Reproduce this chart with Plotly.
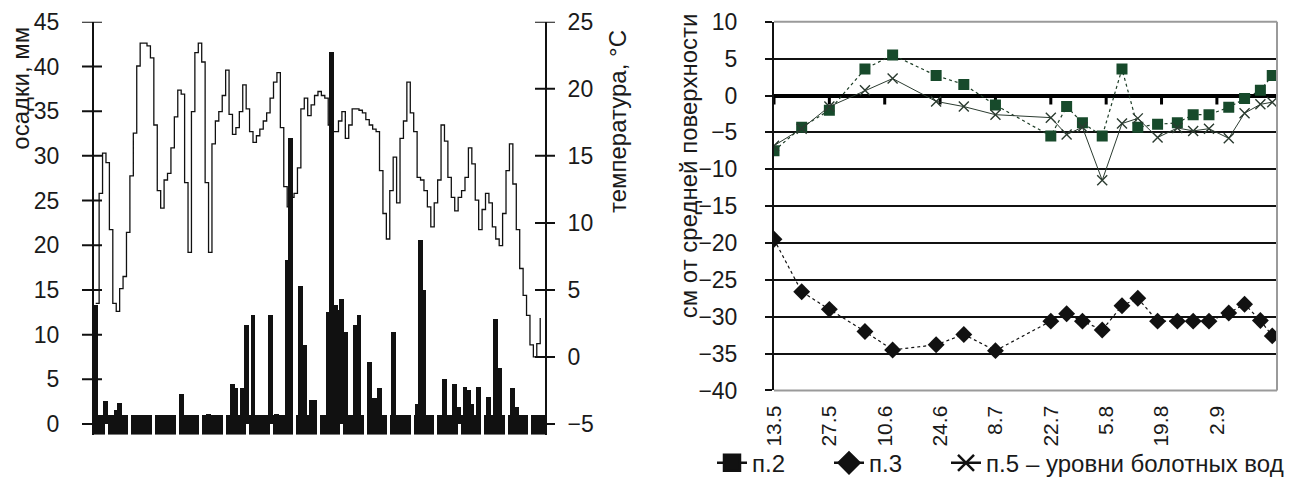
import plotly.graph_objects as go

# ---------------- left chart: daily precipitation and temperature ----------------
days = list(range(131))
temperature = [
    4.0, 12.2, 15.2, 14.5, 9.5, 4.0, 3.4, 5.1, 6.0, 9.3,
    13.5, 16.7, 21.7, 23.4, 23.4, 23.2, 22.3, 17.3, 12.4, 11.1,
    13.2, 13.7, 15.6, 17.9, 19.9, 19.6, 13.0, 7.8, 18.3, 22.7,
    23.4, 22.0, 13.0, 7.8, 15.9, 17.6, 18.3, 19.5, 21.4, 18.1,
    16.6, 17.1, 18.3, 20.3, 18.5, 16.8, 16.0, 16.5, 17.0, 17.6,
    18.2, 19.3, 20.5, 21.2, 17.1, 12.7, 11.2, 11.9, 12.2, 14.1,
    18.5, 19.3, 18.0, 18.8, 19.5, 19.8, 19.5, 19.3, 17.3, 16.8,
    16.8, 17.6, 18.3, 16.3, 17.3, 18.5, 18.5, 18.4, 18.2, 17.7,
    17.3, 17.0, 16.8, 13.9, 10.7, 8.8, 12.4, 14.9, 11.5, 16.3,
    17.6, 20.5, 18.2, 16.8, 13.4, 13.2, 12.4, 11.2, 9.7, 11.5,
    13.2, 17.3, 16.1, 13.4, 11.9, 10.9, 11.9, 12.4, 13.4, 15.6,
    14.4, 11.7, 9.5, 11.0, 12.2, 11.5, 9.7, 8.8, 8.3, 10.7,
    13.9, 15.9, 12.9, 9.5, 6.6, 4.6, 3.1, 0.9, 0.0, 1.0,
    2.9,
]
precip_day = [0, 3, 6, 7, 25, 33, 40, 41, 43, 44, 46, 51, 53, 56, 57, 60, 61, 63, 64,
              68, 69, 70, 71, 72, 73, 76, 77, 80, 81, 82, 83, 87, 94, 95, 96, 97, 98,
              102, 105, 106, 108, 109, 110, 112, 115, 117, 118, 122, 123]
precip_mm = [13.3, 2.6, 1.6, 2.4, 3.4, 1.2, 4.5, 4.0, 4.1, 11.1, 12.2, 12.2, 1.2, 18.4, 32.0,
             15.5, 8.9, 2.7, 2.7, 12.6, 41.7, 13.3, 12.8, 14.0, 10.3, 11.1, 12.2, 7.0, 2.9,
             2.9, 4.1, 10.3, 2.3, 20.6, 15.0, 0.8, 0.8, 5.1, 4.5, 1.9, 4.2, 3.8, 2.3, 4.2,
             3.0, 11.8, 6.3, 4.0, 1.9]
precip_ticks = [0, 5, 10, 15, 20, 25, 30, 35, 40, 45]
temp_ticks = [-5, 0, 5, 10, 15, 20, 25]
temp_labels = ["\u22125", "0", "5", "10", "15", "20", "25"]

# ---------------- right chart: bog water levels ----------------
obs_dates = ["2000-05-13", "2000-05-20", "2000-05-27", "2000-06-05", "2000-06-12",
             "2000-06-23", "2000-06-30", "2000-07-08", "2000-07-22", "2000-07-26",
             "2000-07-30", "2000-08-04", "2000-08-09", "2000-08-13", "2000-08-18",
             "2000-08-23", "2000-08-27", "2000-08-31", "2000-09-05", "2000-09-09",
             "2000-09-13", "2000-09-16"]
p2 = [-7.5, -4.3, -2.0, 3.6, 5.5, 2.7, 1.5, -1.3, -5.5, -1.5, -3.7,
      -5.5, 3.6, -4.3, -3.9, -3.7, -2.6, -2.6, -1.6, -0.4, 0.7, 2.7]
p3 = [-19.5, -26.6, -29.0, -32.0, -34.5, -33.8, -32.4, -34.6, -30.6, -29.6, -30.6,
      -31.8, -28.5, -27.5, -30.6, -30.6, -30.6, -30.6, -29.5, -28.3, -30.5, -32.6]
p5 = [-6.8, -4.5, -1.5, 0.7, 2.3, -0.8, -1.5, -2.6, -3.0, -5.3, -4.3,
      -11.5, -3.8, -3.1, -5.7, -4.4, -4.8, -4.5, -5.8, -2.4, -1.2, -0.9]
tick_dates = ["2000-05-13", "2000-05-27", "2000-06-10", "2000-06-24", "2000-07-08",
              "2000-07-22", "2000-08-05", "2000-08-19", "2000-09-02"]
tick_text = ["13.5", "27.5", "10.6", "24.6", "8.7", "22.7", "5.8", "19.8", "2.9"]
level_ticks = [10, 5, 0, -5, -10, -15, -20, -25, -30, -35, -40]
level_labels = ["10", "5", "0", "\u22125", "\u221210", "\u221215", "\u221220",
                "\u221225", "\u221230", "\u221235", "\u221240"]
series_names = ["п.2", "п.3", "п.5"]

# the page body has an 8 px margin: the figure starts 8 px from the window corner
OFF = 8
W, H = 1296 - OFF, 486 - OFF
FONT = "Liberation Sans, Arial, sans-serif"
TXT = "#1a1a1a"
FS = 23      # y tick labels
FX = 21      # rotated date labels
FT = 24      # titles and legend


def px_x(v):
    return (v - OFF) / W


def px_y(v):
    return 1 - (v - OFF) / H


fig = go.Figure()

# precipitation bars
fig.add_trace(go.Bar(x=precip_day, y=precip_mm, width=1.45, marker=dict(color="#111", line_width=0),
                     xaxis="x", yaxis="y", showlegend=False))
# temperature step line
fig.add_trace(go.Scatter(x=days, y=temperature, mode="lines", line=dict(color="#111", width=1.3, shape="hv"),
                         xaxis="x", yaxis="y2", showlegend=False))

# water level series
fig.add_trace(go.Scatter(x=obs_dates, y=p2, mode="lines+markers",
                         line=dict(color="#1d3d26", width=1.2, dash="dot"),
                         marker=dict(symbol="square", size=11, color="#174a2b"),
                         xaxis="x2", yaxis="y3", showlegend=False))
fig.add_trace(go.Scatter(x=obs_dates, y=p3, mode="lines+markers",
                         line=dict(color="#111", width=1.2, dash="dot"),
                         marker=dict(symbol="diamond", size=13, color="#111"),
                         xaxis="x2", yaxis="y3", showlegend=False))
fig.add_trace(go.Scatter(x=obs_dates, y=p5, mode="lines+markers",
                         line=dict(color="#2b3b30", width=1),
                         marker=dict(symbol="x-thin-open", size=10, line=dict(width=1.4, color="#1f3a27")),
                         xaxis="x2", yaxis="y3", showlegend=False))

# legend entries
leg_symbols = ["square", "diamond", "x-thin-open"]
leg_sizes = [16, 18, 16]
for name, sym, sz in zip(series_names, leg_symbols, leg_sizes):
    fig.add_trace(go.Scatter(x=[None], y=[None], mode="lines+markers", name=name,
                             line=dict(color="#111", width=2.5),
                             marker=dict(symbol=sym, size=sz, color="#111", line=dict(width=2.5, color="#111")),
                             xaxis="x2", yaxis="y3", showlegend=True))

left_dom = [px_x(94), px_x(545)]
left_ydom = [px_y(442), px_y(22)]
right_dom = [px_x(774), px_x(1277)]
right_ydom = [px_y(397), px_y(22)]

axis_font = dict(family=FONT, size=FS, color=TXT)

fig.update_layout(
    width=W, height=H, autosize=False,
    margin=dict(l=0, r=0, t=0, b=0, pad=0),
    paper_bgcolor="white", plot_bgcolor="rgba(0,0,0,0)",
    font=dict(family=FONT, size=FS, color=TXT),
    bargap=0,
    xaxis=dict(domain=left_dom, range=[-0.5, 131.4], anchor="y", automargin=False,
               showgrid=True, gridcolor="white", gridwidth=3, tick0=3.15, dtick=6.877,
               showticklabels=False, ticks="", zeroline=False, showline=False),
    yaxis=dict(domain=left_ydom, range=[-1.2, 45], anchor="x", automargin=False,
               tickvals=precip_ticks, ticks="",
               showline=True, linecolor="#111", linewidth=2, showgrid=False, zeroline=False,
               tickfont=axis_font, ticklabelstandoff=28),
    yaxis2=dict(range=[-5.8, 25], overlaying="y", side="right", anchor="x", automargin=False,
                tickvals=temp_ticks, ticktext=temp_labels, ticks="",
                showline=True, linecolor="#111", linewidth=2, showgrid=False, zeroline=False,
                tickfont=axis_font, ticklabelstandoff=16),
    xaxis2=dict(domain=right_dom, type="date", range=["2000-05-13", "2000-09-17 04:48"], anchor="y3",
                automargin=False,
                tickvals=tick_dates, ticktext=tick_text, tickangle=-90, ticks="",
                showgrid=False, zeroline=False, showline=False,
                tickfont=dict(family=FONT, size=FX, color=TXT), ticklabelstandoff=10),
    yaxis3=dict(domain=right_ydom, range=[-40, 10], anchor="x2", automargin=False,
                tickvals=level_ticks, ticktext=level_labels,
                showgrid=True, gridcolor="#111", gridwidth=2,
                zeroline=True, zerolinecolor="#000", zerolinewidth=4,
                showline=True, linecolor="#111", linewidth=2,
                ticks="outside", ticklen=7, tickwidth=2, tickcolor="#111",
                tickfont=axis_font, ticklabelstandoff=23),
    legend=dict(orientation="h", x=px_x(712), y=px_y(471), xanchor="left", yanchor="middle",
                font=dict(family=FONT, size=FT, color=TXT), bgcolor="rgba(0,0,0,0)",
                itemsizing="trace", entrywidth=72, entrywidthmode="pixels", tracegroupgap=0),
)

shapes = []
# baseline band under the precipitation bars
shapes.append(dict(type="rect", xref="x domain", yref="y", x0=0, x1=1, y0=-1.2, y1=1.0,
                   fillcolor="#111", line_width=0, layer="below"))
# crossing tick marks on both axes of the left chart
for v in precip_ticks:
    shapes.append(dict(type="line", xref="x domain", yref="y", xsizemode="pixel", xanchor=0,
                       x0=-12, x1=8, y0=v, y1=v, line=dict(color="#111", width=2), layer="above"))
for v in temp_ticks:
    shapes.append(dict(type="line", xref="x domain", yref="y2", xsizemode="pixel", xanchor=1,
                       x0=-10, x1=10, y0=v, y1=v, line=dict(color="#111", width=2), layer="above"))
# grey frame (top, right, bottom) of the water-level plot
frame = dict(xref="x2 domain", yref="y3 domain", type="line",
             line=dict(color="#9a9a9a", width=2), layer="above")
shapes.append(dict(frame, x0=0, x1=1, y0=1, y1=1))
shapes.append(dict(frame, x0=0, x1=1, y0=0, y1=0))
shapes.append(dict(frame, x0=1, x1=1, y0=0, y1=1))
# tick marks hanging from the zero line
for d in tick_dates:
    shapes.append(dict(type="line", xref="x2", yref="y3", x0=d, x1=d, ysizemode="pixel", yanchor=0,
                       y0=0, y1=-9, line=dict(color="#000", width=3), layer="below"))
fig.update_layout(shapes=shapes)

title_font = dict(family=FONT, size=FT, color=TXT)
for txt, xc, yc in [("осадки, мм", 21, 90), ("температура, °C", 617, 124),
                    ("см от средней поверхности", 688, 169)]:
    fig.add_annotation(text=txt, textangle=-90, xref="paper", yref="paper",
                       x=px_x(xc), y=px_y(yc), xanchor="center", yanchor="middle",
                       showarrow=False, font=title_font)
fig.add_annotation(text="\u2013 уровни болотных вод", xref="paper", yref="paper",
                   x=px_x(1024), y=px_y(471), xanchor="left", yanchor="middle", showarrow=False,
                   font=title_font)

fig.write_html("out.html")
